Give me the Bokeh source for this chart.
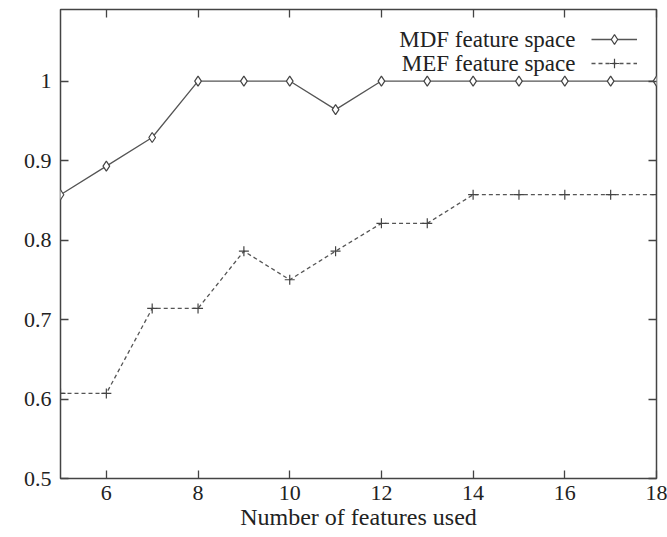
from bokeh.plotting import figure
from bokeh.models import (FixedTicker, LinearAxis, Range1d, Legend, LegendItem, Label,
                          CustomJSTickFormatter)
from bokeh.embed import file_html
from bokeh.resources import INLINE

# ---- data ----
features = [5, 6, 7, 8, 9, 10, 11, 12, 13, 14, 15, 16, 17, 18]
mdf = [0.857, 0.893, 0.929, 1.0, 1.0, 1.0, 0.964, 1.0, 1.0, 1.0, 1.0, 1.0, 1.0, 1.0]
mef = [0.607, 0.607, 0.714, 0.714, 0.786, 0.75, 0.786, 0.821, 0.821, 0.857, 0.857, 0.857, 0.857, 0.857]
x_ticks = [6, 8, 10, 12, 14, 16, 18]
y_ticks = [0.5, 0.6, 0.7, 0.8, 0.9, 1.0]
series_names = ["MDF feature space", "MEF feature space"]
x_label = "Number of features used"

FONT = "Liberation Serif"
TEXT = "#222222"
LINE = "#555555"
FRAME = "#444444"

p = figure(width=667, height=537, output_backend="svg", toolbar_location=None,
           x_range=Range1d(5, 18), y_range=Range1d(0.5, 1.09),
           min_border_left=60, min_border_right=11, min_border_top=9, min_border_bottom=59,
           x_axis_label=x_label)
p.grid.visible = False
p.outline_line_color = FRAME
p.outline_line_width = 1.5
p.background_fill_color = "white"
p.border_fill_color = "white"

# axes styling
for ax, tk in ((p.xaxis[0], x_ticks), (p.yaxis[0], y_ticks)):
    ax.ticker = FixedTicker(ticks=tk)
    ax.axis_line_color = None
    ax.major_tick_in = 8
    ax.major_tick_out = 0
    ax.major_tick_line_color = FRAME
    ax.major_tick_line_width = 1.3
    ax.minor_tick_line_color = None
    ax.major_label_text_font = FONT
    ax.major_label_text_font_size = "22px"
    ax.major_label_text_color = TEXT
p.xaxis[0].major_label_standoff = 7
p.yaxis[0].major_label_standoff = 9
p.yaxis[0].major_label_overrides = {1: "1"}
p.xaxis[0].axis_label_text_font = FONT
p.xaxis[0].axis_label_text_font_size = "24px"
p.xaxis[0].axis_label_text_font_style = "normal"
p.xaxis[0].axis_label_text_color = TEXT
p.xaxis[0].axis_label_standoff = 1

# mirrored ticks (top/right), no labels
for loc, tk in (("right", y_ticks), ("above", x_ticks)):
    a = LinearAxis(ticker=FixedTicker(ticks=tk), axis_line_color=None,
                   major_tick_in=8, major_tick_out=0, major_tick_line_color=FRAME,
                   major_tick_line_width=1.3, minor_tick_line_color=None,
                   formatter=CustomJSTickFormatter(code="return ''"),
                   major_label_standoff=0)
    p.add_layout(a, loc)

# series
l1 = p.line(features, mdf, line_color=LINE, line_width=1.3)
s1 = p.scatter(features, mdf, marker="diamond", size=10, line_color=FRAME,
               fill_color="white", line_width=1.2)
l2 = p.line(features, mef, line_color=LINE, line_width=1.3, line_dash="4 3")
s2 = p.scatter(features, mef, marker="cross", size=10, line_color=FRAME, line_width=1.2)

# legend: samples only (gnuplot style, text drawn to the left)
legend = Legend(items=[LegendItem(label=" ", renderers=[l1, s1]),
                       LegendItem(label=" ", renderers=[l2, s2])],
                location=(531, 403), glyph_width=46, glyph_height=24, label_height=24,
                label_width=1, label_standoff=0, spacing=0, padding=0, margin=0,
                border_line_color=None, background_fill_alpha=0,
                label_text_font_size="8px")
p.add_layout(legend)
for name, ys in zip(series_names, (439, 415)):
    p.add_layout(Label(x=515, y=ys, x_units="screen", y_units="screen", text=name,
                       text_align="right", text_baseline="middle", text_font=FONT,
                       text_font_size="23px", text_color=TEXT))

open("out.html", "w").write(file_html(p, INLINE))
